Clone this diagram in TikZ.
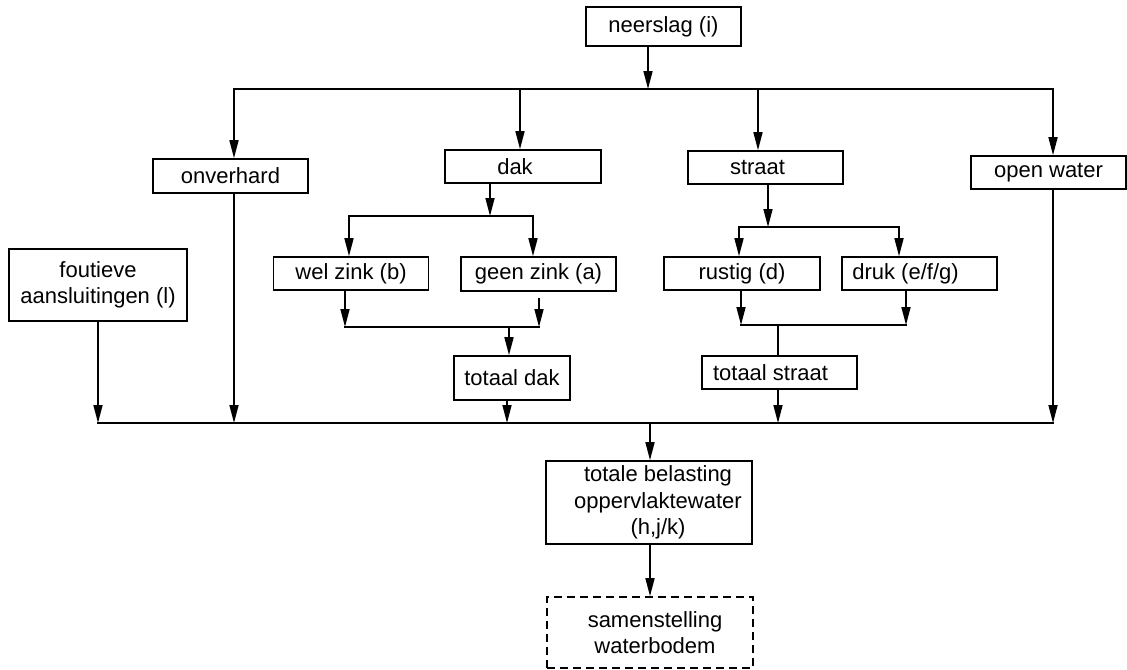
\documentclass[tikz,border=0pt]{standalone}
\usepackage{fontspec}
\setmainfont{Liberation Sans}
\usetikzlibrary{arrows.meta,calc}
\begin{document}
\begin{tikzpicture}[x=0.5pt,y=-0.5pt,
  line width=0.8pt,
  box/.style={draw, rectangle, inner sep=0pt, minimum width=77.5pt,
    minimum height=16.5pt, font=\fontsize{11}{13.3}\selectfont, align=center},
  dashedbox/.style={box, dash pattern=on 4pt off 2.5pt},
  arr/.style={-{Triangle[length=9pt,width=4.5pt]}},
  wire/.style={line cap=rect}]
\useasboundingbox (0,0) rectangle (1127,669);

% boxes
\node[box, minimum height=19.5pt] (neer) at (663.5,26.5) {neerslag (i)};
\node[box, minimum height=17pt] (onv) at (230.5,176) {onverhard};
\node[box, minimum width=78pt] (dak) at (523,166.5) {dak\hspace*{8pt}};
\node[box] (straat) at (765.5,167.5) {straat\hspace*{8pt}};
\node[box] (open) at (1048.5,172.5) {open water};
\node[box] (wel) at (351,273.5) {wel zink (b)};
\node[box, minimum height=17pt] (geen) at (538.5,274) {geen zink (a)};
\node[box, minimum width=78pt] (rustig) at (742,273.5) {rustig (d)};
\node[box] (druk) at (919.5,273.5) {druk (e/f/g)\hspace*{14pt}};
\node[box, minimum width=58pt, minimum height=22pt] (tdak) at (512,378) {totaal dak};
\node[box] (tstraat) at (779.5,372.5) {totaal straat\hspace*{9pt}};
\node[box, minimum width=89pt, minimum height=36pt] (fout) at (98,285)
  {foutieve\\aansluitingen (l)};
\node[box, minimum width=103pt, minimum height=41.5pt] (tot) at (649,502.5)
  {\hspace*{9pt}totale belasting\\\hspace*{9pt}oppervlaktewater\\\hspace*{9pt}(h,j/k)};
\node[dashedbox, minimum width=103pt, minimum height=35.5pt] (samen) at (650,632.5)
  {\hspace*{5pt}samenstelling\\\hspace*{5pt}waterbodem};

% distribution of the rainfall
\coordinate (top) at (648,89);
\coordinate (tl) at (234,89);
\coordinate (tr) at (1053,89);
\coordinate (td) at (520,89);
\coordinate (ts) at (758,89);
\draw[arr] (neer.south -| top) -- (top);
\draw[arr] (tr) -- (tl) -- (tl |- onv.north);
\draw[arr] (tl) -- (tr) -- (tr |- open.north);
\draw[arr] (td) -- (td |- dak.north);
\draw[arr] (ts) -- (ts |- straat.north);

% roof split and merge
\coordinate (dsplit) at (490,216);
\coordinate (dl) at (349,216);
\coordinate (dr) at (533,216);
\draw[arr] (dsplit |- dak.south) -- (dsplit);
\draw[arr] (dr) -- (dl) -- (dl |- wel.north);
\draw[arr] (dl) -- (dr) -- (dr |- geen.north);
\coordinate (ml) at (345,327);
\coordinate (mr) at (539,327);
\coordinate (dm) at (509,327);
\draw[arr] (ml |- wel.south) -- (ml);
\draw[arr] ($(mr |- geen.south)+(0,6)$) -- (mr);
\draw[wire] (ml) -- (mr);
\draw[arr] (dm) -- (dm |- tdak.north);

% street split and merge
\coordinate (ssplit) at (768,227);
\coordinate (sl) at (739,227);
\coordinate (sr) at (899,227);
\draw[arr] (ssplit |- straat.south) -- (ssplit);
\draw[arr] (sr) -- (sl) -- (sl |- rustig.north);
\draw[arr] (sl) -- (sr) -- (sr |- druk.north);
\coordinate (rl) at (741,325);
\coordinate (rr) at (906,325);
\coordinate (sm) at (778,325);
\draw[arr] (rl |- rustig.south) -- (rl);
\draw[arr] (rr |- druk.south) -- (rr);
\draw[wire] (rl) -- (rr);
\draw (sm) -- (sm |- tstraat.north);

% collection into the surface water
\coordinate (bl) at (98,423);
\coordinate (br) at (1053,423);
\coordinate (bd) at (507,423);
\coordinate (bs) at (778,423);
\coordinate (bc) at (650,423);
\draw[wire] (bl) -- (br);
\draw[arr] (fout.south) -- (bl);
\draw[arr] (tl |- onv.south) -- (tl |- bl);
\draw[arr] (bd |- tdak.south) -- (bd);
\draw[arr] (bs |- tstraat.south) -- (bs);
\draw[arr] (tr |- open.south) -- (br);
\draw[arr] (bc) -- (bc |- tot.north);
\draw[arr] (bc |- tot.south) -- (bc |- samen.north);
\end{tikzpicture}
\end{document}
